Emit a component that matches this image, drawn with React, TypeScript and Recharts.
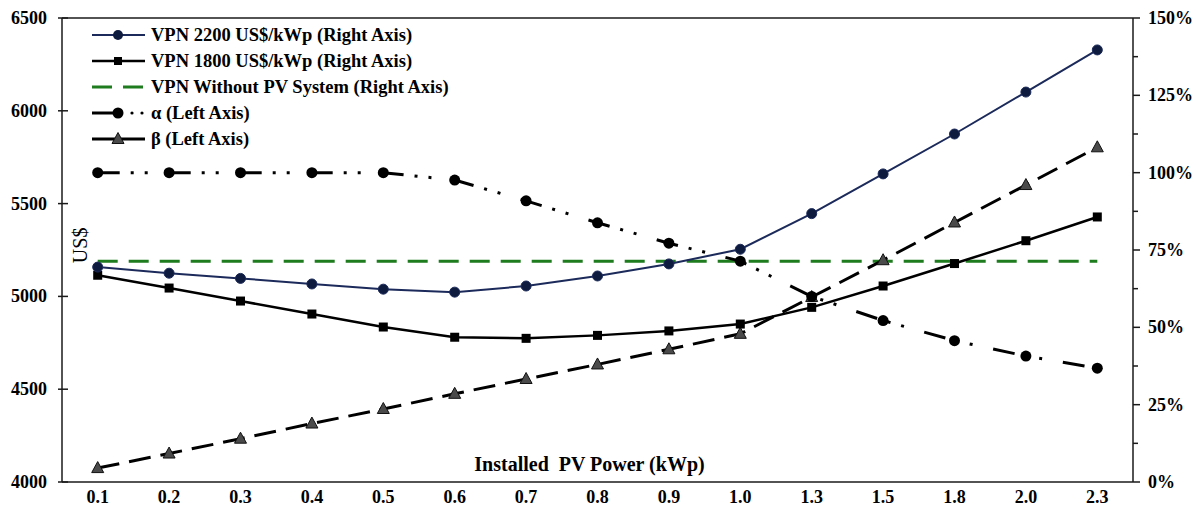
import React from 'react';
import { LineChart, Line, XAxis, YAxis, Legend, ReferenceLine } from 'recharts';

// installed power (kWp) categories
const powerLabels = ['0.1', '0.2', '0.3', '0.4', '0.5', '0.6', '0.7', '0.8', '0.9', '1.0', '1.3', '1.5', '1.8', '2.0', '2.3'];

// VPN in US$ (left scale)
const vpn2200 = [5158, 5125, 5097, 5067, 5039, 5023, 5056, 5110, 5175, 5254, 5446, 5660, 5875, 6101, 6328];
const vpn1800 = [5114, 5045, 4975, 4905, 4835, 4780, 4774, 4790, 4814, 4851, 4941, 5056, 5177, 5300, 5428];
const vpnWithoutPv = [5190, 5190, 5190, 5190, 5190, 5190, 5190, 5190, 5190, 5190, 5190, 5190, 5190, 5190, 5190];

// alpha / beta in % (right scale)
const alphaPct = [100, 100, 100, 100, 100, 97.6, 90.9, 83.8, 77.2, 71.4, 60.0, 52.2, 45.7, 40.7, 36.8];
const betaPct = [4.5, 9.2, 14.0, 18.9, 23.6, 28.5, 33.3, 38.0, 42.9, 47.9, 59.8, 71.7, 83.9, 96.0, 108.2];

const leftTicks = [4000, 4500, 5000, 5500, 6000, 6500];
const rightTicks = [0, 12.5, 25, 37.5, 50, 62.5, 75, 87.5, 100, 112.5, 125, 137.5, 150];

const data = powerLabels.map((kwp, i) => ({
  kwp,
  vpn2200: vpn2200[i],
  vpn1800: vpn1800[i],
  vpnWithoutPv: vpnWithoutPv[i],
  alpha: alphaPct[i],
  beta: betaPct[i],
}));

const FONT = '"Times New Roman", "Liberation Serif", serif';
const AXIS = '#1a1a1a';
const NAVY = '#1B2A5A';
const GREEN = '#1E7B1E';
const TRI_FILL = '#4a4a4a';

const ALPHA_DASH = '22 11 3 11 3 21';
const BETA_DASH = '22 10';
const GREEN_DASH = '20 11';

const legendItems = [
  { key: 'vpn2200', label: 'VPN 2200 US$/kWp (Right Axis)' },
  { key: 'vpn1800', label: 'VPN 1800 US$/kWp (Right Axis)' },
  { key: 'vpnWithoutPv', label: 'VPN Without PV System (Right Axis)' },
  { key: 'alpha', label: 'α (Left Axis)' },
  { key: 'beta', label: 'β (Left Axis)' },
];

const LeftTick = ({ x, y, payload }: any) => (
  <g>
    <line x1={x - 4} x2={x + 6} y1={y} y2={y} stroke={AXIS} strokeWidth={1.5} />
    <text x={x - 15} y={y} dy={6} textAnchor="end" fontFamily={FONT} fontWeight="bold" fontSize={18} fill="#000">
      {payload.value}
    </text>
  </g>
);

const RightTick = ({ x, y, payload }: any) => {
  const major = payload.value % 25 === 0;
  return (
    <g>
      <line x1={x} x2={x + (major ? 7 : 5)} y1={y} y2={y} stroke={AXIS} strokeWidth={1.5} />
      {major && (
        <text x={x + 15} y={y} dy={6} textAnchor="start" fontFamily={FONT} fontWeight="bold" fontSize={18} fill="#000">
          {payload.value}%
        </text>
      )}
    </g>
  );
};

const BottomTick = ({ x, y, payload }: any) => (
  <text x={x} y={y + 21} textAnchor="middle" fontFamily={FONT} fontWeight="bold" fontSize={18} fill="#000">
    {payload.value}
  </text>
);

const usdLabel = ({ viewBox }: any) => {
  const cx = viewBox.x + viewBox.width + 25;
  const cy = viewBox.y + viewBox.height * 0.49;
  return (
    <text x={cx} y={cy} transform={`rotate(-90 ${cx} ${cy})`} textAnchor="middle" fontFamily={FONT} fontSize={20} fill="#000">
      US$
    </text>
  );
};

const powerLabel = ({ viewBox }: any) => (
  <text
    x={viewBox.x + viewBox.width / 2 - 8}
    y={viewBox.y - 11}
    textAnchor="middle"
    fontFamily={FONT}
    fontWeight="bold"
    fontSize={20}
    fill="#000"
    style={{ whiteSpace: 'pre' }}
  >
    {'Installed  PV Power (kWp)'}
  </text>
);

const SquareDot = ({ cx, cy, index }: any) => (
  <rect key={`sq-${index}`} x={cx - 4.5} y={cy - 4.5} width={9} height={9} fill="#000" />
);

const TriangleDot = ({ cx, cy, index }: any) => (
  <path
    key={`tri-${index}`}
    d={`M${cx},${cy - 6.5} L${cx + 6},${cy + 4.5} L${cx - 6},${cy + 4.5} Z`}
    fill={TRI_FILL}
    stroke="#111"
    strokeWidth={1}
  />
);

const navyDot = ({ cx, cy, index }: any) => (
  <circle key={`nv-${index}`} cx={cx} cy={cy} r={5} fill="#0E1A3E" stroke={NAVY} strokeWidth={1} />
);

const alphaDot = ({ cx, cy, index }: any) => (
  <circle key={`al-${index}`} cx={cx} cy={cy} r={5.5} fill="#000" />
);

function LegendSample({ kind }: { kind: string }) {
  return (
    <svg width={58} height={26} style={{ display: 'block', flex: 'none' }}>
      {kind === 'vpn2200' && (
        <g>
          <line x1={2} x2={55} y1={13} y2={13} stroke={NAVY} strokeWidth={2} />
          <circle cx={28} cy={13} r={5} fill="#0E1A3E" />
        </g>
      )}
      {kind === 'vpn1800' && (
        <g>
          <line x1={2} x2={55} y1={13} y2={13} stroke="#000" strokeWidth={2.5} />
          <rect x={24} y={9} width={8} height={8} fill="#000" />
        </g>
      )}
      {kind === 'vpnWithoutPv' && (
        <line x1={2} x2={55} y1={13} y2={13} stroke={GREEN} strokeWidth={3} strokeDasharray={GREEN_DASH} />
      )}
      {kind === 'alpha' && (
        <g>
          <line x1={2} x2={26} y1={13} y2={13} stroke="#000" strokeWidth={3} />
          <circle cx={28} cy={13} r={5.5} fill="#000" />
          <circle cx={42} cy={13} r={1.6} fill="#000" />
          <circle cx={52} cy={13} r={1.6} fill="#000" />
        </g>
      )}
      {kind === 'beta' && (
        <g>
          <line x1={2} x2={55} y1={13} y2={13} stroke="#000" strokeWidth={3} />
          <path d="M28,6.5 L34,17.5 L22,17.5 Z" fill={TRI_FILL} stroke="#111" strokeWidth={1} />
        </g>
      )}
    </svg>
  );
}

const renderLegend = () => (
  <div style={{ fontFamily: FONT, fontWeight: 'bold', fontSize: 18.5, color: '#000' }}>
    {legendItems.map((item) => (
      <div key={item.key} style={{ display: 'flex', alignItems: 'center', height: 26, whiteSpace: 'nowrap' }}>
        <LegendSample kind={item.key} />
        <span style={{ marginLeft: 3 }}>{item.label}</span>
      </div>
    ))}
  </div>
);

export default function App() {
  return (
    <div style={{ width: 1196, height: 512, background: '#fff' }}>
      <style>{'body { margin: 0; }'}</style>
      <LineChart width={1196} height={512} data={data} margin={{ top: 18, right: 0, bottom: 0, left: 0 }}>
        <XAxis
          dataKey="kwp"
          scale="band"
          height={30}
          axisLine={{ stroke: AXIS, strokeWidth: 1.5 }}
          tickLine={false}
          tickSize={0}
          tickMargin={0}
          interval={0}
          tick={<BottomTick />}
          label={{ content: powerLabel }}
        />
        <YAxis
          yAxisId="left"
          orientation="left"
          width={62}
          domain={[4000, 6500]}
          ticks={leftTicks}
          interval={0}
          axisLine={{ stroke: AXIS, strokeWidth: 1.5 }}
          tickLine={false}
          tickSize={0}
          tickMargin={0}
          tick={<LeftTick />}
          label={{ content: usdLabel }}
        />
        <YAxis
          yAxisId="right"
          orientation="right"
          width={63}
          domain={[0, 150]}
          ticks={rightTicks}
          interval={0}
          axisLine={{ stroke: AXIS, strokeWidth: 1.5 }}
          tickLine={false}
          tickSize={0}
          tickMargin={0}
          tick={<RightTick />}
        />
        <ReferenceLine yAxisId="left" y={6500} stroke={AXIS} strokeWidth={1.5} />
        <Legend
          layout="vertical"
          align="center"
          verticalAlign="middle"
          content={renderLegend}
          wrapperStyle={{ left: 90, top: 22, width: 420 }}
        />
        <Line
          yAxisId="left"
          dataKey="vpnWithoutPv"
          type="linear"
          stroke={GREEN}
          strokeWidth={3}
          strokeDasharray={GREEN_DASH}
          dot={false}
          activeDot={false}
          isAnimationActive={false}
        />
        <Line
          yAxisId="right"
          dataKey="beta"
          type="linear"
          stroke="#000"
          strokeWidth={3}
          strokeDasharray={BETA_DASH}
          dot={TriangleDot}
          activeDot={false}
          isAnimationActive={false}
        />
        <Line
          yAxisId="right"
          dataKey="alpha"
          type="linear"
          stroke="#000"
          strokeWidth={3}
          strokeDasharray={ALPHA_DASH}
          dot={alphaDot}
          activeDot={false}
          isAnimationActive={false}
        />
        <Line
          yAxisId="left"
          dataKey="vpn1800"
          type="linear"
          stroke="#000"
          strokeWidth={2.5}
          dot={SquareDot}
          activeDot={false}
          isAnimationActive={false}
        />
        <Line
          yAxisId="left"
          dataKey="vpn2200"
          type="linear"
          stroke={NAVY}
          strokeWidth={2}
          dot={navyDot}
          activeDot={false}
          isAnimationActive={false}
        />
      </LineChart>
    </div>
  );
}
